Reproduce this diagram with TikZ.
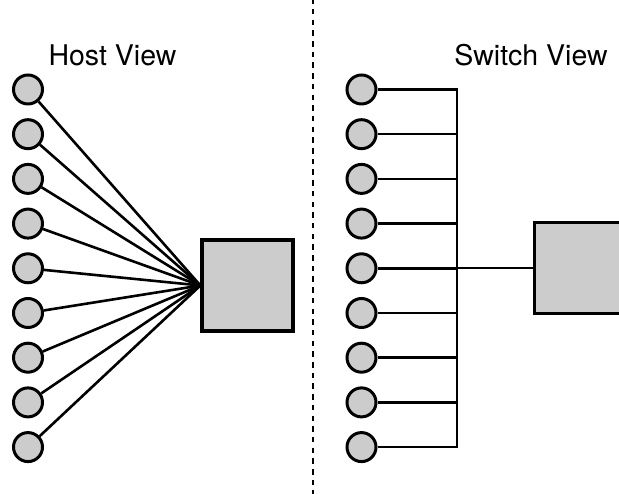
\documentclass[tikz,border=0pt]{standalone}
\usepackage{fontspec}
\setmainfont{TeX Gyre Heros}
\begin{document}
\begin{tikzpicture}[x=1pt,y=1pt,
  host/.style={circle,draw=black,line width=3pt,fill=gray!40,minimum size=29pt,inner sep=0pt},
  box/.style={rectangle,draw=black,line width=3.2pt,fill=gray!40,minimum size=91pt,inner sep=0pt},
  wire/.style={line width=2.6pt},
  title/.style={anchor=base,font=\fontsize{28.5}{34}\selectfont,inner sep=0pt}]
\useasboundingbox (0,0) rectangle (619,494);
% divider
\coordinate (dt) at (313,494);
\coordinate (db) at (313,0);
\draw[line width=2.8pt,dash pattern=on 5.5pt off 5.2pt,dash phase=-9pt] (dt) -- (db);
% titles
\node[title] (ht) at (112.5,428) {Host View};
\node[title] (st) at (531,428) {Switch View};
% host view
\node[box] (hs) at (247.5,208.5) {};
\foreach \i in {0,...,8}{
  \node[host] (h\i) at (28,{494-89.5-44.7*\i}) {};
  \draw[wire] (h\i) -- (hs.west);
}
% switch view
\node[box] (ss) at (580,226) {};
\coordinate (bt) at (457,{494-89.5+1.3});
\coordinate (bb) at (457,{494-89.5-44.7*8-1.3});
\coordinate (bm) at (457,226);
\draw[wire] (bt) -- (bb);
\foreach \i in {0,...,8}{
  \node[host] (s\i) at (361.5,{494-89.5-44.7*\i}) {};
  \draw[wire] (s\i.east) -- (457,{494-89.5-44.7*\i});
}
\draw[wire] (bm) -- (ss.west);
\end{tikzpicture}
\end{document}
